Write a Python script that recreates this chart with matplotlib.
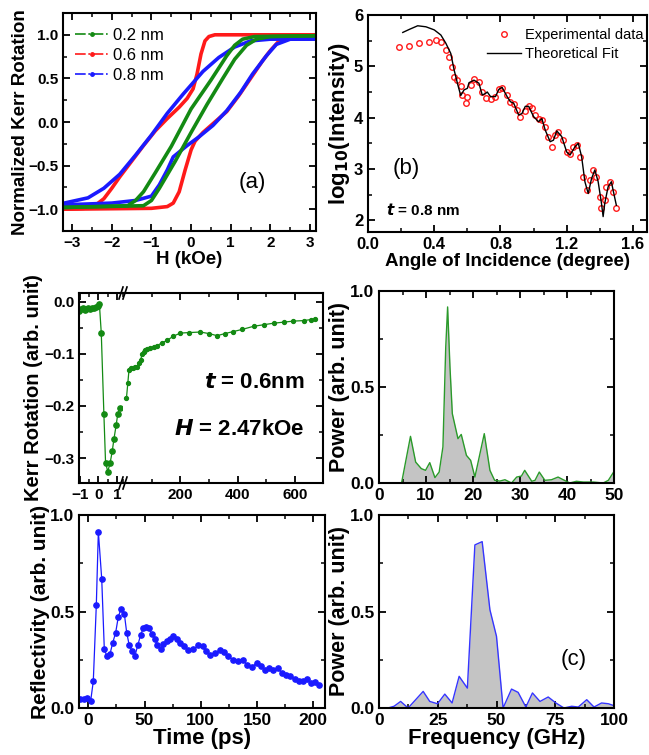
import matplotlib
matplotlib.use("Agg")
import matplotlib.pyplot as plt
from matplotlib.lines import Line2D
from matplotlib.ticker import MultipleLocator

plt.rcParams['font.family'] = ['Liberation Sans', 'DejaVu Sans']
plt.rcParams['font.weight'] = 'bold'
plt.rcParams['axes.labelweight'] = 'bold'
plt.rcParams['axes.linewidth'] = 1.5
plt.rcParams['xtick.direction'] = 'in'
plt.rcParams['ytick.direction'] = 'in'
plt.rcParams['xtick.top'] = True
plt.rcParams['ytick.right'] = True
plt.rcParams['xtick.major.size'] = 5
plt.rcParams['ytick.major.size'] = 5
plt.rcParams['xtick.minor.size'] = 3
plt.rcParams['ytick.minor.size'] = 3
plt.rcParams['xtick.major.width'] = 1.3
plt.rcParams['ytick.major.width'] = 1.3
plt.rcParams['xtick.minor.width'] = 1.1
plt.rcParams['ytick.minor.width'] = 1.1

# (a) hysteresis loops, two branches per thickness
h_green_a = [-3.2, -1.6, -1.4, -1.2, -0.9, -0.5, 0.0, 0.5, 0.9, 1.1, 1.3, 1.6, 3.2]
m_green_a = [-0.98, -0.96, -0.90, -0.80, -0.58, -0.28, 0.15, 0.48, 0.76, 0.88, 0.95, 0.98, 0.99]
h_green_b = [-3.2, -1.2, -1.0, -0.8, -0.4, 0.0, 0.4, 0.8, 1.1, 1.4, 1.65, 2.0, 3.2]
m_green_b = [-0.98, -0.96, -0.90, -0.76, -0.45, -0.12, 0.20, 0.50, 0.72, 0.88, 0.95, 0.98, 0.99]

h_red_a = [3.2, 0.6, 0.45, 0.35, 0.25, 0.15, 0.05, -0.1, -0.3, -0.6, -0.9, -1.2, -1.5, -1.8, -2.0, -2.2, -2.4, -2.7, -3.2]
m_red_a = [1.0, 1.0, 0.98, 0.93, 0.78, 0.55, 0.38, 0.27, 0.17, 0.04, -0.10, -0.27, -0.45, -0.63, -0.76, -0.88, -0.95, -0.99, -1.0]
h_red_b = [-3.2, -1.0, -0.6, -0.45, -0.3, -0.15, 0.0, 0.1, 0.3, 0.6, 0.9, 1.2, 1.5, 1.8, 2.0, 2.2, 2.4, 2.6, 3.2]
m_red_b = [-1.0, -0.99, -0.97, -0.93, -0.80, -0.55, -0.32, -0.22, -0.12, 0.0, 0.12, 0.30, 0.50, 0.70, 0.82, 0.92, 0.97, 0.99, 1.0]

h_blue_a = [3.2, 2.0, 1.5, 1.1, 0.7, 0.3, -0.2, -0.6, -1.0, -1.4, -1.8, -2.2, -2.6, -3.2]
m_blue_a = [0.95, 0.95, 0.93, 0.86, 0.74, 0.58, 0.32, 0.10, -0.15, -0.38, -0.60, -0.76, -0.87, -0.93]
h_blue_b = [-3.2, -2.0, -1.4, -1.0, -0.8, -0.6, -0.45, -0.1, 0.2, 0.55, 0.9, 1.25, 1.55, 1.9, 2.15, 2.5, 3.2]
m_blue_b = [-0.95, -0.93, -0.90, -0.85, -0.72, -0.55, -0.40, -0.27, -0.17, -0.04, 0.13, 0.34, 0.55, 0.76, 0.89, 0.95, 0.96]

# (b) X-ray reflectivity
ang_exp = [0.19, 0.25, 0.31, 0.37, 0.41, 0.44, 0.47, 0.49, 0.51, 0.52, 0.54, 0.56, 0.57, 0.59, 0.60,
           0.62, 0.64, 0.67, 0.69, 0.71, 0.74, 0.77, 0.79, 0.81, 0.84, 0.86, 0.88, 0.90, 0.92, 0.95,
           0.97, 0.99, 1.01, 1.03, 1.05, 1.07, 1.09, 1.11, 1.13, 1.15, 1.18, 1.20, 1.22, 1.24, 1.26,
           1.28, 1.30, 1.32, 1.34, 1.36, 1.38, 1.40, 1.41, 1.43, 1.44, 1.46, 1.48, 1.50]
int_exp = [5.37, 5.40, 5.45, 5.48, 5.51, 5.47, 5.32, 5.19, 4.99, 4.80, 4.73, 4.61, 4.44, 4.28, 4.41,
           4.63, 4.75, 4.70, 4.50, 4.39, 4.37, 4.41, 4.55, 4.57, 4.45, 4.31, 4.26, 4.15, 4.02, 4.13,
           4.23, 4.18, 4.05, 3.98, 3.96, 3.82, 3.63, 3.43, 3.66, 3.72, 3.56, 3.33, 3.30, 3.43, 3.46,
           3.24, 2.85, 2.59, 2.78, 2.98, 2.85, 2.46, 2.23, 2.39, 2.65, 2.75, 2.55, 2.23]
ang_fit = [0.21, 0.25, 0.30, 0.35, 0.40, 0.44, 0.47, 0.50, 0.52, 0.54, 0.56, 0.58, 0.60, 0.61, 0.64,
           0.67, 0.69, 0.71, 0.72, 0.74, 0.77, 0.79, 0.81, 0.84, 0.86, 0.88, 0.91, 0.93, 0.95, 0.97,
           1.00, 1.03, 1.05, 1.07, 1.10, 1.12, 1.14, 1.17, 1.20, 1.22, 1.25, 1.27, 1.29, 1.31, 1.33,
           1.35, 1.37, 1.39, 1.41, 1.42, 1.43, 1.45, 1.47, 1.48, 1.50]
int_fit = [5.66, 5.72, 5.79, 5.77, 5.71, 5.61, 5.45, 5.25, 4.93, 4.67, 4.43, 4.54, 4.57, 4.68, 4.73,
           4.67, 4.44, 4.47, 4.50, 4.41, 4.41, 4.55, 4.59, 4.41, 4.31, 4.28, 4.05, 4.08, 4.22, 4.22,
           4.02, 3.92, 3.98, 3.76, 3.53, 3.56, 3.74, 3.63, 3.33, 3.27, 3.43, 3.50, 3.24, 2.75, 2.52,
           2.81, 2.98, 2.75, 2.33, 2.07, 2.33, 2.65, 2.75, 2.59, 2.29]

# Kerr rotation, broken time axis (ps)
kerr_t_left = [-1.05, -0.95, -0.85, -0.75, -0.65, -0.55, -0.45, -0.35, -0.25, -0.15, -0.05, 0.05,
               0.15, 0.29, 0.38, 0.50, 0.63, 0.74, 0.83, 0.95, 1.04, 1.15]
kerr_v_left = [-0.018, -0.014, -0.012, -0.015, -0.013, -0.012, -0.014, -0.011, -0.012, -0.010, -0.008, -0.005,
               -0.060, -0.215, -0.309, -0.326, -0.309, -0.287, -0.264, -0.237, -0.215, -0.204]
kerr_t_right = [12, 17, 21, 28, 35, 42, 49, 55, 61, 67, 72, 78, 84, 95, 107, 119, 135, 154, 175, 200,
                230, 270, 300, 328, 355, 385, 415, 455, 490, 525, 560, 594, 630, 655, 670]
kerr_v_right = [-0.185, -0.155, -0.130, -0.128, -0.128, -0.126, -0.125, -0.118, -0.112, -0.100, -0.097,
                -0.093, -0.090, -0.088, -0.086, -0.084, -0.079, -0.074, -0.066, -0.060, -0.059, -0.058,
                -0.061, -0.065, -0.061, -0.057, -0.053, -0.047, -0.044, -0.041, -0.039, -0.037, -0.036,
                -0.034, -0.033]

# FFT of Kerr signal
freq_kerr = [2.3, 4.8, 6.7, 7.8, 9.0, 9.9, 10.8, 11.9, 12.8, 13.6, 14.2, 14.6, 15.1, 15.6, 16.8, 17.5,
             18.6, 19.5, 20.4, 21.4, 22.4, 23.6, 24.6, 25.7, 26.8, 28.2, 29.3, 30.3, 31.0, 32.5, 33.2,
             34.1, 35.3, 36.7, 38.1, 39.2, 40.6, 42.0, 43.5, 45.6, 47.7, 48.8, 50.0]
pow_kerr = [0.0, 0.0, 0.243, 0.109, 0.075, 0.066, 0.106, 0.028, 0.057, 0.188, 0.708, 0.917, 0.604,
            0.361, 0.231, 0.253, 0.144, 0.118, 0.031, 0.144, 0.257, 0.066, 0.014, 0.010, 0.017, 0.0,
            0.031, 0.036, 0.066, 0.009, 0.014, 0.057, 0.014, 0.017, 0.031, 0.017, 0.0, 0.009, 0.005,
            0.005, 0.0, 0.014, 0.060]

# reflectivity
time_refl = [-7.4, -3.9, -0.9, 2.1, 4.4, 7.1, 8.9, 11.9, 14.2, 16.3, 19.3, 21.6, 24.3, 26.7, 29.0, 32.0,
             34.1, 36.4, 39.1, 41.5, 43.9, 46.5, 48.9, 51.0, 53.6, 56.6, 59.3, 61.3, 64.3, 66.7, 69.6,
             72.6, 75.6, 78.5, 81.5, 85.0, 88.9, 93.3, 97.8, 101.6, 104.6, 108.1, 112.6, 117.0, 120.6,
             124.4, 128.9, 133.3, 137.8, 141.3, 145.2, 149.6, 153.2, 157.0, 160.9, 164.4, 168.3, 171.9,
             175.7, 179.3, 183.7, 187.6, 191.1, 194.1, 197.6, 201.5, 205.0]
refl = [0.048, 0.047, 0.052, 0.038, 0.138, 0.534, 0.914, 0.669, 0.305, 0.271, 0.281, 0.336, 0.391,
        0.474, 0.512, 0.488, 0.391, 0.324, 0.293, 0.272, 0.324, 0.379, 0.414, 0.421, 0.416, 0.383,
        0.357, 0.328, 0.307, 0.331, 0.345, 0.357, 0.371, 0.359, 0.336, 0.319, 0.302, 0.305, 0.324,
        0.319, 0.293, 0.276, 0.284, 0.298, 0.288, 0.267, 0.250, 0.241, 0.247, 0.221, 0.212, 0.233,
        0.216, 0.198, 0.207, 0.198, 0.207, 0.181, 0.172, 0.164, 0.150, 0.138, 0.138, 0.150, 0.129,
        0.133, 0.121]

# FFT of reflectivity
freq_refl = [3.8, 6.4, 9.2, 12.4, 15.6, 18.8, 21.6, 24.9, 28.0, 31.1, 34.1, 37.6, 40.8, 43.9, 47.2,
             50.0, 52.8, 56.4, 59.2, 62.5, 65.3, 68.5, 72.0, 75.3, 78.7, 82.0, 84.8, 88.4, 91.5, 94.7,
             97.6, 100.0]
pow_refl = [0.0, 0.009, 0.034, 0.0, 0.043, 0.086, 0.034, 0.022, 0.072, 0.026, 0.164, 0.103, 0.845,
            0.862, 0.509, 0.371, 0.0, 0.098, 0.081, 0.005, 0.078, 0.034, 0.057, 0.026, 0.0, 0.009,
            0.005, 0.043, 0.005, 0.026, 0.022, 0.012]

GREEN = '#138a13'
RED = '#ff1a1a'
BLUE = '#1a1aff'
GREY = '#c4c4c4'

W, H = 649, 755
fig = plt.figure(figsize=(6.49, 7.55), dpi=100)


def box(l, r, t, b):
    return [l / W, 1 - b / H, (r - l) / W, (b - t) / H]


# ---- (a)
ax_a = fig.add_axes(box(63, 316, 13, 231))
ax_a.plot(h_red_a, m_red_a, color=RED, lw=2.6)
ax_a.plot(h_red_b, m_red_b, color=RED, lw=2.6)
ax_a.plot(h_blue_a, m_blue_a, color=BLUE, lw=2.6)
ax_a.plot(h_blue_b, m_blue_b, color=BLUE, lw=2.6)
ax_a.plot(h_green_a, m_green_a, color=GREEN, lw=2.6)
ax_a.plot(h_green_b, m_green_b, color=GREEN, lw=2.6)
ax_a.set_xlim(-3.23, 3.15)
ax_a.set_ylim(-1.25, 1.25)
ax_a.xaxis.set_major_locator(MultipleLocator(1))
ax_a.xaxis.set_minor_locator(MultipleLocator(0.5))
ax_a.yaxis.set_major_locator(MultipleLocator(0.5))
ax_a.yaxis.set_minor_locator(MultipleLocator(0.25))
ax_a.tick_params(labelsize=11)
ax_a.set_xlabel('H (kOe)', fontsize=13.5, labelpad=1)
ax_a.set_ylabel('Normalized Kerr Rotation', fontsize=13.5, labelpad=-1)
handles = [Line2D([], [], color=c, ls='-.', marker='.', markersize=5, lw=1.2)
           for c in (GREEN, RED, BLUE)]
ax_a.legend(handles, ['0.2 nm', '0.6 nm', '0.8 nm'], loc='upper left', frameon=False,
            prop={'size': 12, 'weight': 'normal'}, handlelength=2.1, handletextpad=0.2,
            labelspacing=0.3, borderaxespad=0.3, bbox_to_anchor=(0.0, 0.985))
ax_a.text(1.55, -0.69, '(a)', fontsize=16, fontweight='normal', ha='center', va='center')

# ---- (b)
ax_b = fig.add_axes(box(368, 647, 15, 232))
ax_b.plot(ang_exp, int_exp, ls='none', marker='o', mfc='none', mec=RED, ms=4, mew=1.0,
          label='Experimental data')
ax_b.plot(ang_fit, int_fit, color='black', lw=1.0, label='Theoretical Fit')
ax_b.set_xlim(0, 1.685)
ax_b.set_ylim(1.77, 6)
ax_b.xaxis.set_major_locator(MultipleLocator(0.4))
ax_b.xaxis.set_minor_locator(MultipleLocator(0.2))
ax_b.yaxis.set_major_locator(MultipleLocator(1))
ax_b.yaxis.set_minor_locator(MultipleLocator(0.5))
ax_b.tick_params(labelsize=12)
ax_b.set_xlabel('Angle of Incidence (degree)', fontsize=13.5, labelpad=1)
ax_b.set_ylabel('log$_{10}$(Intensity)', fontsize=16, labelpad=1)
ax_b.legend(loc='upper left', bbox_to_anchor=(0.38, 1.0), frameon=False,
            prop={'size': 10.5, 'weight': 'normal'}, handlelength=2.3, handletextpad=0.3,
            labelspacing=0.35)
ax_b.text(0.15, 3.0, '(b)', fontsize=16, fontweight='normal', ha='left', va='center')
ax_b.text(0.11, 2.2, r'$\boldsymbol{t}$ = 0.8 nm', fontsize=11, ha='left', va='center')

# ---- Kerr rotation, broken axis
ax_kl = fig.add_axes(box(79, 123, 293, 483))
ax_kr = fig.add_axes(box(123, 323, 293, 483))
ax_kl.plot(kerr_t_left, kerr_v_left, color=GREEN, lw=0.9, marker='o', ms=3.8)
ax_kr.plot(kerr_t_right, kerr_v_right, color=GREEN, lw=0.9, marker='o', ms=2.8)
for ax in (ax_kl, ax_kr):
    ax.set_ylim(-0.348, 0.017)
    ax.tick_params(labelsize=11)
    ax.yaxis.set_major_locator(MultipleLocator(0.1))
    ax.yaxis.set_minor_locator(MultipleLocator(0.05))
ax_kl.set_xlim(-1.05, 1.32)
ax_kr.set_xlim(0, 697)
ax_kl.spines['right'].set_visible(False)
ax_kr.spines['left'].set_visible(False)
ax_kl.tick_params(axis='y', which='both', right=False)
ax_kr.tick_params(axis='y', which='both', left=False, labelleft=False)
ax_kl.xaxis.set_major_locator(MultipleLocator(1))
ax_kl.xaxis.set_minor_locator(MultipleLocator(0.5))
ax_kr.xaxis.set_major_locator(MultipleLocator(200))
ax_kr.xaxis.set_minor_locator(MultipleLocator(100))
ax_kr.set_xticks([200, 400, 600])
ax_kl.set_ylabel('Kerr Rotation (arb. unit)', fontsize=14.5, labelpad=1)
ax_kr.text(0.91, 0.53, r'$\boldsymbol{t}$ = 0.6nm', transform=ax_kr.transAxes,
           fontsize=16, ha='right', va='center')
ax_kr.text(0.91, 0.28, r'$\boldsymbol{H}$ = 2.47kOe', transform=ax_kr.transAxes,
           fontsize=16, ha='right', va='center')
# break marks
for yb in (293, 483):
    for dx in (-2, 2):
        xb = 123 + dx
        fig.add_artist(Line2D([(xb - 2) / W, (xb + 2) / W], [1 - (yb + 6) / H, 1 - (yb - 6) / H],
                              color='black', lw=1.2))

# ---- power (Kerr)
ax_p1 = fig.add_axes(box(379, 614, 291, 483))
ax_p1.fill_between(freq_kerr, pow_kerr, color=GREY, lw=0)
ax_p1.plot(freq_kerr, pow_kerr, color='#2a9a2a', lw=1.0)
ax_p1.set_xlim(0, 50)
ax_p1.set_ylim(0, 1)
ax_p1.xaxis.set_major_locator(MultipleLocator(10))
ax_p1.xaxis.set_minor_locator(MultipleLocator(5))
ax_p1.yaxis.set_major_locator(MultipleLocator(0.5))
ax_p1.yaxis.set_minor_locator(MultipleLocator(0.25))
ax_p1.tick_params(labelsize=12.5)
ax_p1.set_ylabel('Power (arb. unit)', fontsize=15.5, labelpad=0)

# ---- reflectivity
ax_r = fig.add_axes(box(79, 325, 515, 708))
ax_r.plot(time_refl, refl, color=BLUE, lw=0.9, marker='o', ms=3.8)
ax_r.set_xlim(-8.3, 210.4)
ax_r.set_ylim(0, 1)
ax_r.xaxis.set_major_locator(MultipleLocator(50))
ax_r.xaxis.set_minor_locator(MultipleLocator(25))
ax_r.yaxis.set_major_locator(MultipleLocator(0.5))
ax_r.yaxis.set_minor_locator(MultipleLocator(0.25))
ax_r.tick_params(labelsize=12.5)
ax_r.set_xlabel('Time (ps)', fontsize=16, labelpad=0)
ax_r.set_ylabel('Reflectivity (arb. unit)', fontsize=15, labelpad=0)

# ---- power (reflectivity)
ax_p2 = fig.add_axes(box(379, 614, 515, 708))
ax_p2.fill_between(freq_refl, pow_refl, color=GREY, lw=0)
ax_p2.plot(freq_refl, pow_refl, color='#3535ff', lw=1.0)
ax_p2.set_xlim(0, 100)
ax_p2.set_ylim(0, 1)
ax_p2.xaxis.set_major_locator(MultipleLocator(25))
ax_p2.xaxis.set_minor_locator(MultipleLocator(12.5))
ax_p2.yaxis.set_major_locator(MultipleLocator(0.5))
ax_p2.yaxis.set_minor_locator(MultipleLocator(0.25))
ax_p2.tick_params(labelsize=12.5)
ax_p2.set_xlabel('Frequency (GHz)', fontsize=16, labelpad=0)
ax_p2.set_ylabel('Power (arb. unit)', fontsize=15.5, labelpad=0)
ax_p2.text(0.83, 0.25, '(c)', transform=ax_p2.transAxes, fontsize=16,
           fontweight='normal', ha='center', va='center')

fig.savefig('out.png', dpi=100)
